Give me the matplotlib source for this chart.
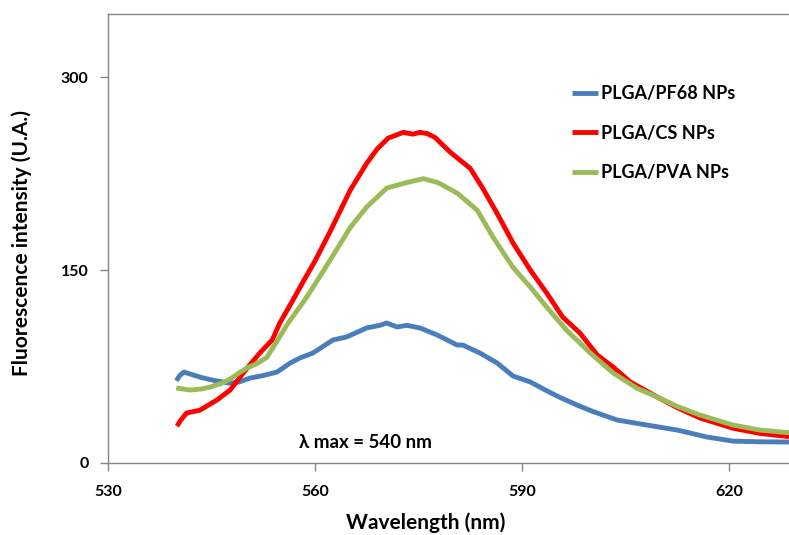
import matplotlib
matplotlib.use("Agg")
import matplotlib.pyplot as plt

# ---- data ----
wl_pf68 = [539.9, 540.4, 541.0, 542.0, 543.5, 545.5, 547.7, 549.0, 550.6, 552.5,
           554.5, 556.4, 557.8, 559.7, 562.6, 564.6, 567.5, 569.4, 570.4, 571.9,
           573.3, 575.2, 577.7, 580.6, 581.4, 583.9, 586.4, 588.7, 591.2, 594.0,
           595.5, 598.0, 600.3, 603.8, 608.1, 612.5, 616.8, 620.6, 624.5, 628.7]
int_pf68 = [63.9, 68.0, 70.7, 69.0, 66.5, 64.0, 62.0, 63.0, 66.0, 68.0,
            70.7, 77.7, 81.6, 85.5, 95.6, 98.0, 105.0, 107.0, 108.8, 105.7,
            107.0, 105.0, 99.5, 91.7, 91.7, 85.5, 77.7, 67.6, 63.0, 55.0,
            51.0, 45.0, 40.0, 33.4, 29.5, 25.6, 20.2, 17.0, 16.5, 16.3]

wl_cs = [540.0, 540.5, 541.4, 543.3, 545.8, 547.7, 549.6, 552.0, 553.8, 554.9,
         556.8, 558.5, 560.0, 562.2, 565.1, 567.5, 569.0, 570.6, 572.8, 574.2,
         575.2, 576.3, 577.4, 579.6, 582.5, 584.3, 586.4, 588.7, 591.2, 593.6,
         595.9, 598.4, 600.9, 603.2, 605.7, 609.6, 612.5, 615.8, 620.6, 624.5, 628.7]
int_cs = [28.7, 33.0, 38.9, 41.0, 49.0, 56.7, 70.0, 85.5, 95.6, 108.8,
          126.6, 143.0, 157.0, 180.0, 212.0, 233.0, 244.0, 252.5, 257.0, 255.6,
          257.0, 256.0, 253.0, 241.6, 229.0, 213.7, 194.0, 171.0, 150.0, 132.0,
          113.4, 101.0, 84.0, 74.6, 63.0, 51.3, 43.0, 35.0, 27.0, 23.0, 20.5]

wl_pva = [539.9, 541.9, 543.5, 544.8, 546.5, 547.7, 549.0, 550.1, 551.5, 553.0,
          554.6, 556.0, 558.5, 560.0, 562.0, 565.1, 567.5, 570.4, 573.3, 575.7,
          577.8, 580.6, 583.5, 585.8, 588.7, 591.2, 593.6, 596.5, 599.9, 603.2,
          606.7, 609.6, 612.5, 615.8, 620.6, 624.5, 628.7]
int_pva = [58.3, 56.7, 57.5, 59.0, 62.0, 65.3, 70.0, 73.8, 77.0, 82.0,
           95.6, 108.0, 126.6, 139.0, 156.0, 183.0, 199.0, 213.7, 218.0, 221.0,
           218.0, 209.8, 196.6, 175.6, 152.0, 136.8, 121.0, 103.0, 85.5, 70.0,
           58.0, 51.3, 44.0, 37.3, 29.5, 25.6, 23.5]

labels = ["PLGA/PF68 NPs", "PLGA/CS NPs", "PLGA/PVA NPs"]
colors = ["#4A7EBB", "#FF0000", "#9BBB59"]
xticks = [530, 560, 590, 620]
yticks = [0, 150, 300]

plt.rcParams['font.family'] = ['Lato', 'DejaVu Sans']
plt.rcParams['font.weight'] = 'bold'

fig = plt.figure(figsize=(7.89, 5.35), dpi=100)
ax = fig.add_axes([108/789, 1 - 463/535, 1 - 108/789, (463 - 14)/535])

for wl, it, lab, c in zip([wl_pf68, wl_cs, wl_pva], [int_pf68, int_cs, int_pva], labels, colors):
    ax.plot(wl, it, color=c, lw=3.5, label=lab, solid_joinstyle='round', solid_capstyle='butt')

ax.set_xlim(530, 628.7)
ax.set_ylim(0, 349)
ax.set_xticks(xticks)
ax.set_yticks(yticks)
ax.tick_params(direction='out', length=6, width=1, color='#868686', labelsize=11.5)
ax.tick_params(axis='x', pad=10)
ax.tick_params(axis='y', pad=8)
for lab in ax.get_xticklabels() + ax.get_yticklabels():
    lab.set_fontweight('bold')
for s in ['left', 'bottom', 'top']:
    ax.spines[s].set_color('#868686')
    ax.spines[s].set_linewidth(1)
ax.spines['right'].set_visible(False)

ax.text(557.7, 16, "λ max = 540 nm", ha='left', va='center', fontsize=13.5, fontweight='bold')

fig.text(426/789, 1 - 523/535, "Wavelength (nm)", ha='center', va='center', fontsize=15, fontweight='bold')
fig.text(22/789, 1 - 243/535, "Fluorescence intensity (U.A.)", ha='center', va='center',
         rotation=90, fontsize=15, fontweight='bold')

leg = ax.legend(loc='upper left', bbox_to_anchor=(572/789, 1 - 85/535), bbox_transform=fig.transFigure,
                frameon=False, fontsize=13, handlelength=1.45, handletextpad=0.15, labelspacing=1.25,
                borderpad=0, borderaxespad=0)
for t in leg.get_texts():
    t.set_fontweight('bold')

fig.savefig("out.png", dpi=100)
